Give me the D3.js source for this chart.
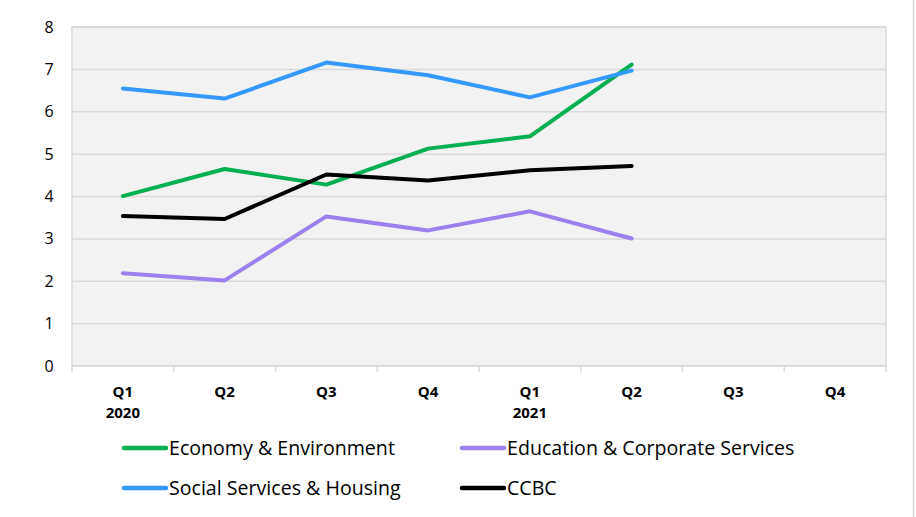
<!DOCTYPE html>
<html>
<head>
<meta charset="utf-8">
<script src="https://cdn.jsdelivr.net/npm/d3@7"></script>
<style>
  body { margin: 0; background: #fff; }
  svg text { font-family: "Open Sans", "Noto Sans", sans-serif; fill: #000; }
  .ylab { font-size: 16px; }
  .xlab { font-size: 15px; font-weight: bold; }
  .leg { font-size: 19.6px; }
</style>
</head>
<body>
<div id="chart"></div>
<script>
// quarters shown on the axis (the last two have no data yet)
const quarters = ['Q1', 'Q2', 'Q3', 'Q4', 'Q1', 'Q2', 'Q3', 'Q4']
const years = ['2020', '', '', '', '2021', '', '', '']

const economy = [4.01, 4.65, 4.28, 5.13, 5.42, 7.11]
const education = [2.19, 2.02, 3.53, 3.2, 3.65, 3.01]
const social = [6.55, 6.31, 7.16, 6.86, 6.34, 6.97]
const ccbc = [3.54, 3.47, 4.52, 4.38, 4.62, 4.72]

const yTicks = [0, 1, 2, 3, 4, 5, 6, 7, 8]

const series = [
  { name: 'Economy & Environment', values: economy, color: '#00b050' },
  { name: 'Education & Corporate Services', values: education, color: '#9b80ee' },
  { name: 'Social Services & Housing', values: social, color: '#3399ff' },
  { name: 'CCBC', values: ccbc, color: '#000000' }
]

const width = 916, height = 517
const margin = { top: 27, right: 30, bottom: 151, left: 72 }

let svg = d3.select('#chart').append('svg')
  .attr('width', width)
  .attr('height', height)

// outer chart border on the right
svg.append('line')
  .attr('x1', 913.5).attr('x2', 913.5)
  .attr('y1', 0).attr('y2', height)
  .attr('stroke', '#d9d9d9').attr('stroke-width', 1.5)

let x = d3.scaleBand()
  .domain(d3.range(quarters.length))
  .range([margin.left, width - margin.right])

let y = d3.scaleLinear()
  .domain([0, 8])
  .range([height - margin.bottom, margin.top])

// plot area
svg.append('rect')
  .attr('x', margin.left)
  .attr('y', margin.top)
  .attr('width', width - margin.left - margin.right)
  .attr('height', height - margin.top - margin.bottom)
  .attr('fill', '#f2f2f2')
  .attr('stroke', '#d9d9d9')
  .attr('stroke-width', 1.5)

// gridlines
svg.append('g').selectAll('line')
  .data(yTicks)
  .enter()
  .append('line')
  .attr('x1', margin.left)
  .attr('x2', width - margin.right)
  .attr('y1', d => y(d))
  .attr('y2', d => y(d))
  .attr('stroke', '#d9d9d9')
  .attr('stroke-width', 1.5)

// y labels
svg.append('g').selectAll('text')
  .data(yTicks)
  .enter()
  .append('text')
  .attr('class', 'ylab')
  .attr('x', 49)
  .attr('y', d => y(d))
  .attr('dy', '0.35em')
  .attr('text-anchor', 'middle')
  .text(d => d)

// x tick marks at band edges
let edges = d3.range(quarters.length).map(i => x(i)).concat([x(quarters.length - 1) + x.bandwidth()])
svg.append('g').selectAll('line')
  .data(edges)
  .enter()
  .append('line')
  .attr('x1', d => d).attr('x2', d => d)
  .attr('y1', y(0))
  .attr('y2', y(0) + 6)
  .attr('stroke', '#d9d9d9')
  .attr('stroke-width', 1.5)

// x labels
svg.append('g').selectAll('text')
  .data(quarters)
  .enter()
  .append('text')
  .attr('class', 'xlab')
  .attr('text-anchor', 'middle')
  .attr('x', (d, i) => x(i) + x.bandwidth() / 2)
  .attr('y', 397)
  .text(d => d)

svg.append('g').selectAll('text')
  .data(years)
  .enter()
  .append('text')
  .attr('class', 'xlab')
  .attr('text-anchor', 'middle')
  .attr('x', (d, i) => x(i) + x.bandwidth() / 2)
  .attr('y', 418)
  .text(d => d)

let line = d3.line()
  .x((d, i) => x(i) + x.bandwidth() / 2)
  .y(d => y(d))

// draw order: economy, education, social, ccbc
svg.append('g').selectAll('path')
  .data(series)
  .enter()
  .append('path')
  .attr('d', d => line(d.values))
  .attr('fill', 'none')
  .attr('stroke', d => d.color)
  .attr('stroke-width', 4)
  .attr('stroke-linejoin', 'round')
  .attr('stroke-linecap', 'round')

// legend
let legPos = [[122, 448], [460, 448], [122, 488], [460, 488]]
let leg = svg.append('g').selectAll('g')
  .data(series)
  .enter()
  .append('g')
  .attr('transform', (d, i) => 'translate(' + legPos[i][0] + ',' + legPos[i][1] + ')')

leg.append('line')
  .attr('x1', 2).attr('x2', 44)
  .attr('stroke', d => d.color)
  .attr('stroke-width', 4.5)
  .attr('stroke-linecap', 'round')

leg.append('text')
  .attr('class', 'leg')
  .attr('x', 47)
  .attr('dy', '0.35em')
  .text(d => d.name)
</script>
</body>
</html>
